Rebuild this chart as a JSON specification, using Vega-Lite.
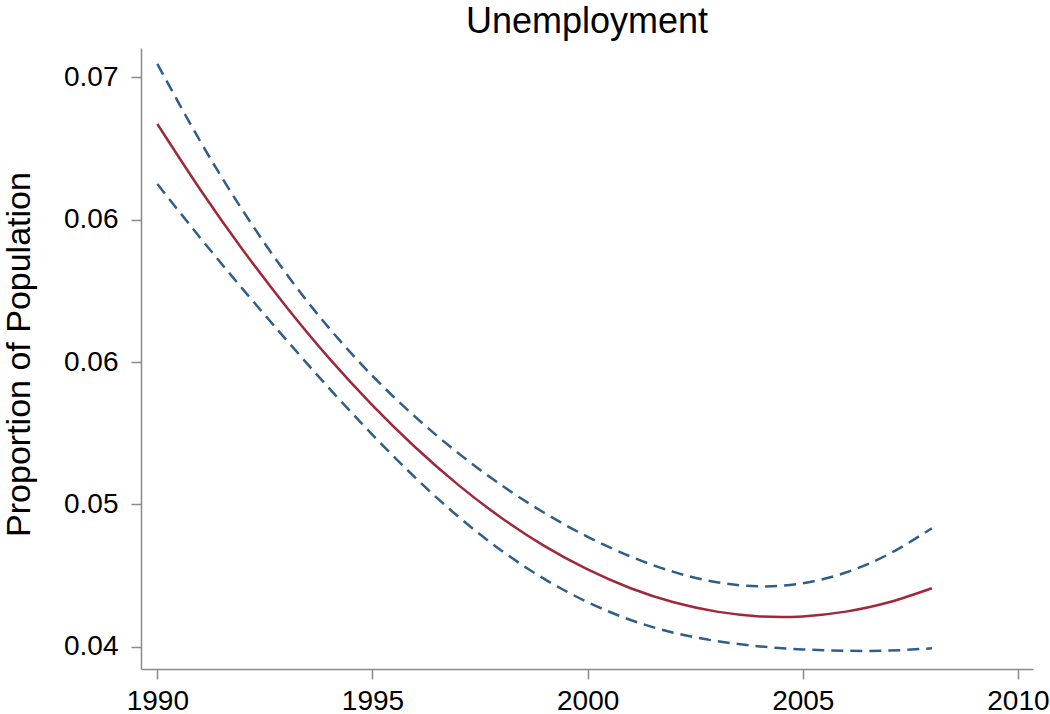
{
  "$schema": "https://vega.github.io/schema/vega-lite/v6.json",
  "width": 892,
  "height": 621,
  "autosize": "none",
  "padding": {"left": 141, "top": 48, "right": 17, "bottom": 45},
  "background": "white",
  "config": {
    "view": {"stroke": null},
    "font": "Liberation Sans"
  },
  "title": {
    "text": "Unemployment",
    "fontSize": 36,
    "fontWeight": "normal",
    "font": "Liberation Sans",
    "color": "black",
    "anchor": "middle",
    "frame": "group",
    "baseline": "alphabetic",
    "offset": -21
  },
  "data": {
    "values": [
      {"year": 1990, "fit": 0.06753, "lo": 0.06437, "hi": 0.07069},
      {"year": 1991, "fit": 0.06407, "lo": 0.06153, "hi": 0.06661},
      {"year": 1992, "fit": 0.06086, "lo": 0.05880, "hi": 0.06292},
      {"year": 1993, "fit": 0.05790, "lo": 0.05616, "hi": 0.05964},
      {"year": 1994, "fit": 0.05518, "lo": 0.05360, "hi": 0.05676},
      {"year": 1995, "fit": 0.05272, "lo": 0.05117, "hi": 0.05427},
      {"year": 1996, "fit": 0.05050, "lo": 0.04890, "hi": 0.05210},
      {"year": 1997, "fit": 0.04852, "lo": 0.04685, "hi": 0.05019},
      {"year": 1998, "fit": 0.04679, "lo": 0.04507, "hi": 0.04851},
      {"year": 1999, "fit": 0.04531, "lo": 0.04357, "hi": 0.04705},
      {"year": 2000, "fit": 0.04408, "lo": 0.04236, "hi": 0.04580},
      {"year": 2001, "fit": 0.04309, "lo": 0.04142, "hi": 0.04476},
      {"year": 2002, "fit": 0.04235, "lo": 0.04075, "hi": 0.04395},
      {"year": 2003, "fit": 0.04186, "lo": 0.04031, "hi": 0.04341},
      {"year": 2004, "fit": 0.04161, "lo": 0.04003, "hi": 0.04319},
      {"year": 2005, "fit": 0.04161, "lo": 0.03987, "hi": 0.04335},
      {"year": 2006, "fit": 0.04186, "lo": 0.03980, "hi": 0.04392},
      {"year": 2007, "fit": 0.04235, "lo": 0.03981, "hi": 0.04489},
      {"year": 2008, "fit": 0.04309, "lo": 0.03993, "hi": 0.04625}
    ]
  },
  "encoding": {
    "x": {
      "field": "year",
      "type": "quantitative",
      "scale": {"domain": [1989.62, 2010.35], "nice": false, "zero": false},
      "axis": {
        "title": null,
        "values": [1990, 1995, 2000, 2005, 2010],
        "format": "d",
        "grid": false,
        "domainColor": "#8a8a8a",
        "domainWidth": 1.5,
        "tickColor": "#8a8a8a",
        "tickWidth": 1.5,
        "tickSize": 10,
        "labelFontSize": 28,
        "labelFont": "Liberation Sans",
        "labelColor": "black",
        "labelPadding": 8,
        "labelFlush": false
      }
    }
  },
  "layer": [
    {
      "mark": {"type": "line", "color": "#2f5e8c", "strokeWidth": 2.5, "strokeDash": [12, 7], "interpolate": "natural"},
      "encoding": {
        "y": {
          "field": "hi",
          "type": "quantitative",
          "scale": {"domain": [0.03884, 0.07153], "nice": false, "zero": false},
          "axis": {
            "title": "Proportion of Population",
            "titleFontSize": 34,
            "titleFont": "Liberation Sans",
            "titleFontWeight": "normal",
            "titleColor": "black",
            "titleAngle": -90,
            "titleBaseline": "alphabetic",
            "titleAlign": "center",
            "titleX": -112,
            "titleY": 306,
            "values": [0.04, 0.0475, 0.055, 0.0625, 0.07],
            "labelExpr": "format(datum.value + 0.0001, '.2f')",
            "grid": false,
            "domainColor": "#8a8a8a",
            "domainWidth": 1.5,
            "tickColor": "#8a8a8a",
            "tickWidth": 1.5,
            "tickSize": 10,
            "labelFontSize": 28,
            "labelFont": "Liberation Sans",
            "labelColor": "black",
            "labelPadding": 13,
            "labelFlush": false
          }
        }
      }
    },
    {
      "mark": {"type": "line", "color": "#2f5e8c", "strokeWidth": 2.5, "strokeDash": [12, 7], "interpolate": "natural"},
      "encoding": {"y": {"field": "lo", "type": "quantitative"}}
    },
    {
      "mark": {"type": "line", "color": "#a0283a", "strokeWidth": 2.5, "interpolate": "natural"},
      "encoding": {"y": {"field": "fit", "type": "quantitative"}}
    }
  ]
}
